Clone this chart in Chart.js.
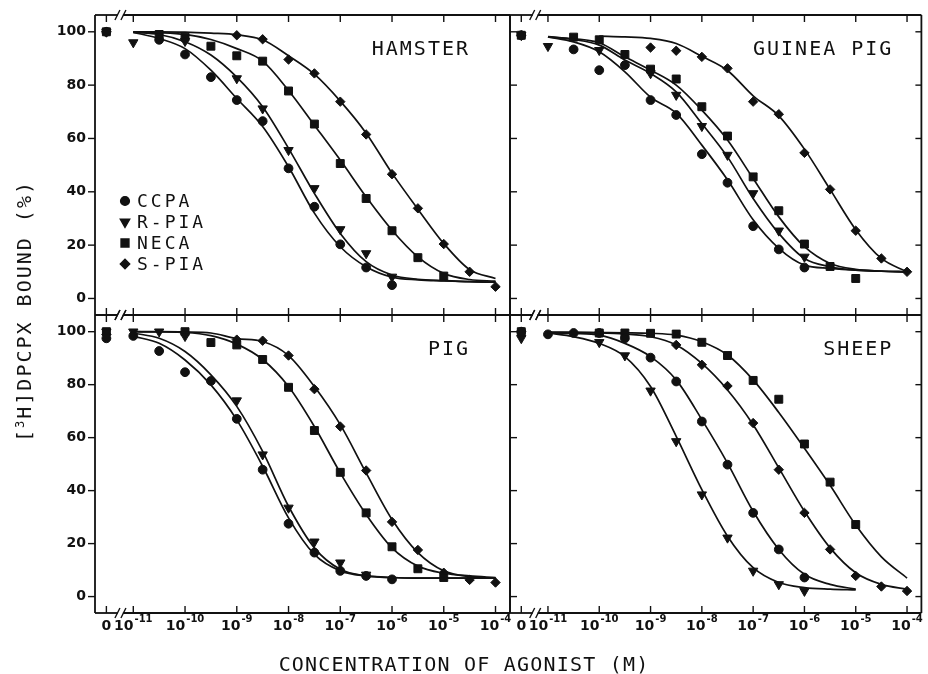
<!DOCTYPE html>
<html>
<head>
<meta charset="utf-8">
<title>[3H]DPCPX binding - agonist competition</title>
<script src="https://cdn.jsdelivr.net/npm/chart.js@4.4.0/dist/chart.umd.min.js"></script>
<style>
  body { margin: 0; background: #fff; }
  #wrap { position: relative; width: 928px; height: 674px; overflow: hidden; }
  #wrap canvas { position: absolute; left: 0; top: 0; }
  .ttl { position: absolute; font-family: "DejaVu Sans Mono", monospace; font-size: 20px; color: #111; white-space: nowrap; line-height: 1; }
  .ttl sup { font-size: 12px; vertical-align: 7px; line-height: 0; }
  #xTitle { left: 464px; top: 664px; transform: translate(-50%, -50%); letter-spacing: 1.2px; }
  #yTitle { left: 24px; top: 311px; transform: translate(-50%, -50%) rotate(-90deg); letter-spacing: 2px; }
</style>
</head>
<body>
<div id="wrap">
  <canvas id="hamster" width="928" height="674"></canvas>
  <canvas id="guinea" width="928" height="674"></canvas>
  <canvas id="pig" width="928" height="674"></canvas>
  <canvas id="sheep" width="928" height="674"></canvas>
  <div class="ttl" id="yTitle">[<sup>3</sup>H]DPCPX BOUND (%)</div>
  <div class="ttl" id="xTitle">CONCENTRATION OF AGONIST (M)</div>
</div>
<script>
// concentrations are log10(M), half-log steps
const logConc = [-11, -10.5, -10, -9.5, -9, -8.5, -8, -7.5, -7, -6.5, -6, -5.5, -5, -4.5, -4];
const ZERO_AT = -11.52;   // "0" concentration sits left of the axis break
const BREAK_AT = -11.22;
const xTickValues = [ZERO_AT, -11, -10, -9, -8, -7, -6, -5, -4];
const xTickLabels = ['0', '10^-11', '10^-10', '10^-9', '10^-8', '10^-7', '10^-6', '10^-5', '10^-4'];
const yTickValues = [0, 20, 40, 60, 80, 100];
const agonists = ['CCPA', 'R-PIA', 'NECA', 'S-PIA'];

// hamster
const hamsterZero = [100, 100, 100, 100];
const hamsterCCPA = [null, 97, 91.5, 83, 74.4, 66.5, 48.8, 34.4, 20.3, 11.6, 5, null, null, null, null];
const hamsterRPIA = [96, null, 96.5, null, 82.5, 71.2, 55.6, 41.3, 25.9, 16.9, 8.1, null, null, null, null];
const hamsterNECA = [null, 99, 98, 94.6, 91, 89, 77.8, 65.4, 50.6, 37.5, 25.4, 15.3, 8.4, null, null];
const hamsterSPIA = [null, null, null, null, 98.7, 97.2, 89.6, 84.4, 73.8, 61.5, 46.6, 33.8, 20.4, 10, 4.4];
const hamsterCCPAFit = [99.8, 97.5, 93.7, 85.6, 75, 64.5, 49.4, 32, 19.4, 11.9, 8, 7, 6.6, 6.3, 6.1];
const hamsterRPIAFit = [99.8, 99, 96.3, 91.3, 83, 71.9, 56.3, 39.4, 24.4, 13.8, 8.8, 7.2, 6.7, 6.3, 6.1];
const hamsterNECAFit = [100, 99.7, 99, 97.1, 93.7, 89, 78, 65, 51.9, 38.1, 25.6, 15.6, 9.4, 7.1, 6.5];
const hamsterSPIAFit = [100, 100, 99.9, 99.5, 98.9, 97, 91, 84.1, 74, 62, 47, 33.5, 20.6, 10.8, 7.5];

// guinea pig
const guineaZero = [98.7, 98.7, 98.7, 98.7];
const guineaCCPA = [null, 93.4, 85.6, 87.5, 74.4, 68.8, 54.1, 43.4, 27.1, 18.4, 11.6, null, null, null, null];
const guineaRPIA = [94.6, null, 93.1, null, 84.4, 76.3, 64.6, 53.8, 39.4, 25.4, 15.6, null, null, null, null];
const guineaNECA = [null, 98, 97, 91.5, 86, 82.3, 71.9, 60.9, 45.6, 32.9, 20.4, 12, 7.5, null, null];
const guineaSPIA = [null, null, null, null, 94.1, 92.9, 90.6, 86.3, 73.8, 69.1, 54.6, 40.9, 25.4, 15, 10];
const guineaCCPAFit = [98.1, 96.2, 92.5, 85, 75.5, 69.5, 57.5, 44.5, 29.5, 18.8, 12.5, 11.3, 10.6, 10.2, 10];
const guineaRPIAFit = [98.1, 97.1, 95, 89.4, 84.4, 77.5, 65.6, 53.1, 37.5, 24.4, 15, 11.9, 10.6, 10.2, 10];
const guineaNECAFit = [98.2, 97.4, 95.9, 90.6, 85.6, 80, 70.6, 59.4, 45, 30.6, 19.4, 13.1, 10.9, 10.3, 10];
const guineaSPIAFit = [null, null, 98.4, 98.1, 97.5, 95.6, 90.8, 85.5, 76, 68.5, 56, 40.9, 25.8, 15, 10];

// pig
const pigZero = [97.5, 100, 100, 99];
const pigCCPA = [98.4, 92.7, 84.7, 81.4, 67.1, 47.9, 27.5, 16.6, 9.7, 7.8, 6.5, null, null, null, null];
const pigRPIA = [100, 100, 98.3, null, 74, 53.6, 33.5, 20.7, 12.8, 8.2, null, null, null, null, null];
const pigNECA = [null, null, 100, 95.9, 95, 89.5, 79, 62.7, 46.9, 31.6, 18.8, 10.5, 7.2, null, null];
const pigSPIA = [null, null, null, null, 97, 96.6, 91, 78.3, 64.2, 47.6, 28.2, 17.6, 9, 6.3, 5.3];
const pigCCPAFit = [98.3, 95.6, 89.3, 79.9, 66.7, 49.2, 29.7, 15.9, 9.7, 7.8, 7.2, 7, 7, 7, 7];
const pigRPIAFit = [99.5, 97.5, 92.5, 83.7, 71.8, 54.8, 34.1, 18.4, 10.3, 7.8, 7.2, 7, 7, 7, 7];
const pigNECAFit = [100, 99.9, 99.7, 98.5, 95.3, 89.5, 79.3, 64.2, 46.7, 31, 18.4, 11.5, 8.8, 7.8, 7.2];
const pigSPIAFit = [100, 100, 99.9, 99.5, 97.4, 96.3, 91, 79.3, 64.9, 46.7, 29.1, 16.6, 9.7, 7.5, 7];

// sheep
const sheepZero = [100, 97.5, 100, 100];
const sheepCCPA = [99, 99.5, 99.5, 97.5, 90.2, 81.2, 66.1, 49.8, 31.6, 17.8, 7.2, null, null, null, null];
const sheepRPIA = [null, null, 96, 91, 77.7, 58.6, 38.5, 22.2, 9.7, 4.6, 2.1, null, null, null, null];
const sheepNECA = [null, null, 99.5, 99.5, 99.4, 99.1, 96, 91, 81.6, 74.5, 57.6, 43.2, 27.2, null, null];
const sheepSPIA = [null, null, null, null, null, 95, 87.5, 79.5, 65.5, 47.9, 31.6, 17.8, 7.8, 3.8, 2.1];
const sheepCCPAFit = [99.5, 99.3, 98.7, 95.6, 90.6, 81.8, 66.8, 50.4, 32.2, 17.8, 8.4, 4.6, 2.8, null, null];
const sheepRPIAFit = [99.5, 98.1, 95.6, 90.6, 79.3, 60.5, 40.4, 22.8, 10.9, 5.3, 3.4, 2.8, 2.5, null, null];
const sheepNECAFit = [99.8, 99.8, 99.7, 99.6, 99.4, 98.7, 96.2, 91.2, 81.8, 69.5, 56, 42, 27, 15, 7];
const sheepSPIAFit = [99.7, 99.6, 99.5, 99.1, 98.1, 95, 88, 78, 64.9, 48.6, 32.2, 18.4, 9, 4.6, 2.8];

const INK = '#111';
Chart.defaults.font.family = '"DejaVu Sans", sans-serif';
Chart.defaults.color = INK;

const markers = [
  { pointStyle: 'circle', radius: 4.4, rotation: 0 },
  { pointStyle: 'triangle', radius: 5.4, rotation: 180 },
  { pointStyle: 'rect', radius: 5.6, rotation: 0 },
  { pointStyle: 'rectRot', radius: 4.7, rotation: 0 }
];

function pts(zero, vals) {
  const d = [{ x: ZERO_AT, y: zero }];
  vals.forEach(function (v, i) {
    if (v !== null) d.push({ x: logConc[i], y: v });
  });
  return d;
}
function fit(vals) {
  return logConc.map(function (x, i) { return { x: x, y: vals[i] }; })
    .filter(function (p) { return p.y !== null; });
}

function line(ctx, x1, y1, x2, y2) {
  ctx.beginPath();
  ctx.moveTo(x1, y1);
  ctx.lineTo(x2, y2);
  ctx.stroke();
}

// frame, tick marks, axis break, panel name, legend and x labels
function decor(cfg) {
  return {
    id: 'decor',
    afterDraw: function (chart) {
      const ctx = chart.ctx, a = chart.chartArea;
      const xs = chart.scales.x, ys = chart.scales.y;
      const T = 7;
      ctx.save();
      ctx.strokeStyle = INK;
      ctx.fillStyle = INK;
      ctx.lineWidth = 1.8;

      const gx = xs.getPixelForValue(BREAK_AT);
      [a.top, a.bottom].forEach(function (yy) {
        line(ctx, a.left, yy, gx - 4, yy);
        line(ctx, gx + 1, yy, a.right, yy);
      });
      line(ctx, a.left, a.top, a.left, a.bottom);
      line(ctx, a.right, a.top, a.right, a.bottom);

      ctx.lineWidth = 1.4;
      [a.top, a.bottom].forEach(function (yy) {
        line(ctx, gx - 7, yy + 5, gx - 2, yy - 5);
        line(ctx, gx - 1, yy + 5, gx + 4, yy - 5);
      });

      yTickValues.forEach(function (v) {
        const py = ys.getPixelForValue(v);
        if (cfg.left === 'out') line(ctx, a.left - T, py, a.left, py);
        else line(ctx, a.left, py, a.left + T, py);
        if (cfg.right) line(ctx, a.right - 6, py, a.right, py);
      });
      xTickValues.forEach(function (v) {
        const px = xs.getPixelForValue(v);
        line(ctx, px, a.top, px, a.top + T);
        line(ctx, px, a.bottom - T, px, a.bottom);
      });

      // panel name
      ctx.font = '20px "DejaVu Sans Mono"';
      ctx.letterSpacing = '2px';
      ctx.textAlign = 'right';
      ctx.textBaseline = 'middle';
      ctx.fillText(cfg.name, a.right - cfg.nameInset, a.top + 35);

      if (cfg.legend) {
        ctx.font = '18px "DejaVu Sans Mono"';
        ctx.letterSpacing = '3px';
        ctx.textAlign = 'left';
        agonists.forEach(function (name, i) {
          const yy = a.top + 186 + i * 21;
          const m = markers[i];
          if (Chart.helpers && Chart.helpers.drawPoint) {
            Chart.helpers.drawPoint(ctx, { pointStyle: m.pointStyle, radius: m.radius, rotation: m.rotation, borderWidth: 1 }, a.left + 30, yy);
          }
          ctx.fillText(name, a.left + 42, yy + 1);
        });
      }

      if (cfg.xLabels) {
        ctx.letterSpacing = '0px';
        ctx.textAlign = 'left';
        ctx.textBaseline = 'alphabetic';
        xTickValues.forEach(function (v, i) {
          const px = xs.getPixelForValue(v);
          const parts = xTickLabels[i].split('^');
          ctx.font = 'bold 14px "DejaVu Sans"';
          const w1 = ctx.measureText(parts[0]).width;
          if (parts.length === 1) {
            ctx.fillText(parts[0], px - w1 / 2, a.bottom + 17);
            return;
          }
          ctx.font = 'bold 10px "DejaVu Sans"';
          const w2 = ctx.measureText(parts[1]).width;
          const x0 = px - (w1 + 1 + w2) / 2;
          ctx.fillText(parts[1], x0 + w1 + 1, a.bottom + 9);
          ctx.font = 'bold 14px "DejaVu Sans"';
          ctx.fillText(parts[0], x0, a.bottom + 17);
        });
      }
      ctx.restore();
    }
  };
}

function makeChart(id, zero, series, fits, cfg) {
  const datasets = [];
  fits.forEach(function (vals) {
    datasets.push({
      data: fit(vals),
      showLine: true,
      pointRadius: 0,
      borderColor: INK,
      borderWidth: 1.7,
      cubicInterpolationMode: 'monotone'
    });
  });
  series.forEach(function (vals, i) {
    const m = markers[i];
    datasets.push({
      label: agonists[i],
      data: pts(zero[i], vals),
      showLine: false,
      pointStyle: m.pointStyle,
      pointRadius: m.radius,
      pointRotation: m.rotation,
      backgroundColor: INK,
      borderColor: INK,
      borderWidth: 1
    });
  });

  const showY = cfg.left === 'out';
  return new Chart(document.getElementById(id), {
    type: 'scatter',
    data: { datasets: datasets },
    options: {
      responsive: false,
      animation: false,
      devicePixelRatio: 1,
      events: [],
      layout: { padding: cfg.padding },
      plugins: { legend: { display: false }, tooltip: { enabled: false } },
      scales: {
        x: { type: 'linear', min: -11.74, max: -3.72, display: false },
        y: {
          type: 'linear',
          min: -6.2,
          max: 106.3,
          display: showY,
          afterBuildTicks: function (s) { s.ticks = yTickValues.map(function (v) { return { value: v }; }); },
          afterFit: function (s) { s.width = showY ? 95 : 0; },
          grid: { display: false, drawTicks: true, tickLength: 7 },
          border: { display: false },
          ticks: { padding: 2, color: INK, font: { size: 14, weight: 'bold' } }
        }
      }
    },
    plugins: [decor(cfg)]
  });
}

makeChart('hamster', hamsterZero,
  [hamsterCCPA, hamsterRPIA, hamsterNECA, hamsterSPIA],
  [hamsterCCPAFit, hamsterRPIAFit, hamsterNECAFit, hamsterSPIAFit],
  { name: 'HAMSTER', nameInset: 40, left: 'out', right: false, legend: true, xLabels: false,
    padding: { left: 0, right: 418, top: 15, bottom: 359 } });

makeChart('guinea', guineaZero,
  [guineaCCPA, guineaRPIA, guineaNECA, guineaSPIA],
  [guineaCCPAFit, guineaRPIAFit, guineaNECAFit, guineaSPIAFit],
  { name: 'GUINEA PIG', nameInset: 28, left: 'in', right: true, legend: false, xLabels: false,
    padding: { left: 510, right: 2, top: 15, bottom: 359 } });

makeChart('pig', pigZero,
  [pigCCPA, pigRPIA, pigNECA, pigSPIA],
  [pigCCPAFit, pigRPIAFit, pigNECAFit, pigSPIAFit],
  { name: 'PIG', nameInset: 40, left: 'out', right: false, legend: false, xLabels: true,
    padding: { left: 0, right: 418, top: 315, bottom: 61 } });

makeChart('sheep', sheepZero,
  [sheepCCPA, sheepRPIA, sheepNECA, sheepSPIA],
  [sheepCCPAFit, sheepRPIAFit, sheepNECAFit, sheepSPIAFit],
  { name: 'SHEEP', nameInset: 28, left: 'in', right: true, legend: false, xLabels: true,
    padding: { left: 510, right: 2, top: 315, bottom: 61 } });
</script>
</body>
</html>
